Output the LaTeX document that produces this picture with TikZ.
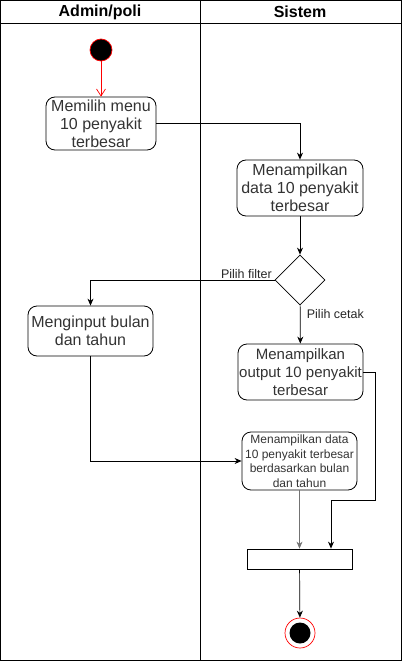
\documentclass[tikz,border=0pt]{standalone}
\usepackage{fontspec}
\setmainfont{Liberation Sans}
\usetikzlibrary{arrows.meta,shapes.geometric}
\tikzset{
	act/.style={draw, line width=0.8pt, rounded corners=9pt, align=center, inner sep=0pt, font=\fontsize{16}{18}\selectfont, text=black!80},
	flow/.style={line width=0.7pt, -{Stealth[length=7pt,width=6pt]}},
	guard/.style={font=\fontsize{12.5}{14}\selectfont, text=black!85},
}

\begin{document}
\begin{tikzpicture}[x=1pt, y=-1pt]
		%%%%% START %%%%%
		\useasboundingbox (0, 0) rectangle (402, 661);
		
		% swimlanes
		\draw[line width=0.9pt] (0.5, 0.5) rectangle (401, 660);
		\draw[line width=0.9pt] (0.5, 23) -- (401, 23);
		\draw[line width=0.9pt] (200, 0.5) -- (200, 660);
		\node[font=\fontsize{16}{18}\selectfont\bfseries] (laneA) at (100, 12) {Admin/poli};
		\node[font=\fontsize{16}{18}\selectfont\bfseries] (laneB) at (300, 12) {Sistem};
		
		% start and end
		\node[circle, fill=black, draw=red, line width=0.7pt, minimum size=22pt, inner sep=0pt] (start) at (101, 50) {};
		\node[circle, draw=red, line width=0.7pt, minimum size=30pt, inner sep=0pt] (stop) at (300, 633) {};
		\node[circle, fill=black, minimum size=21pt, inner sep=0pt] at (stop) {};
		
		% actions
		\node[act, minimum width=110pt, minimum height=53pt] (menu) at (101, 123.5) {Memilih menu\\10 penyakit\\terbesar};
		\node[act, minimum width=126pt, minimum height=56pt] (tampil) at (300, 188) {Menampilkan\\data 10 penyakit\\terbesar};
		\node[draw, line width=0.8pt, diamond, minimum width=50pt, minimum height=50pt, inner sep=0pt] (pilih) at (300, 280) {};
		\node[act, minimum width=125pt, minimum height=50pt] (input) at (90.5, 331) {Menginput bulan\\dan tahun};
		\node[act, minimum width=125pt, minimum height=56pt, font=\fontsize{15}{18}\selectfont] (output) at (300.5, 372) {Menampilkan\\output 10 penyakit\\terbesar};
		\node[act, minimum width=115pt, minimum height=58pt, font=\fontsize{12}{14.5}\selectfont] (filter) at (299.5, 461) {Menampilkan data\\10 penyakit terbesar\\berdasarkan bulan\\dan tahun};
		\node[draw, line width=0.8pt, minimum width=105pt, minimum height=20pt, inner sep=0pt] (bar) at (299.5, 559) {};
		
		% flows
		\draw[red, line width=0.7pt, -{Straight Barb[length=7pt,width=9pt]}] (start) -- (menu);
		\draw[flow] (menu.east) -| (tampil.north);
		\draw[flow] (tampil) -- (pilih);
		\draw[flow] (pilih.west) -| (input.north) node[guard, pos=0, anchor=south east, inner sep=1.5pt, xshift=-1pt] {Pilih filter};
		\draw[flow] (pilih) -- (output) node[guard, pos=0.22, right=3pt] {Pilih cetak};
		\draw[flow] (input.south) |- (filter.west);
		\draw[flow, black!55] (filter.south) -- (bar.north -| filter.south);
		\draw[flow] (output.east) -- ++(12, 0) |- (331, 500) -- (bar.north -| 331, 0);
		\draw[flow] (bar) -- (stop);
		
		%%%%% END %%%%%
	\end{tikzpicture}
\end{document}
